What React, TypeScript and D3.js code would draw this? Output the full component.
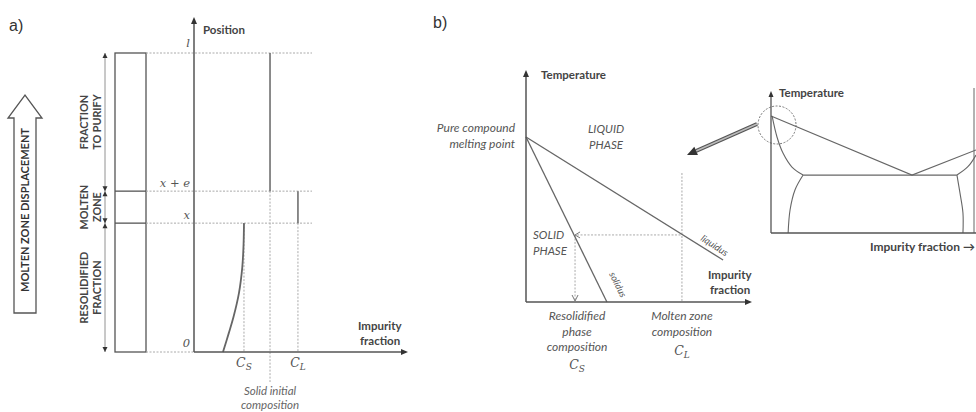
import * as d3 from "d3"

// ---- panel a: zone melting profile ----
const positionLabels = ["0", "x", "x + e", "l"]
const positionValues = [0, 0.431, 0.538, 1]
const segmentLabels = [["RESOLIDIFIED", "FRACTION"], ["MOLTEN", "ZONE"], ["FRACTION", "TO PURIFY"]]
// impurity fractions: solid (C_S), initial (C_0), liquid (C_L)
const compSolid = 0.238
const compInitial = 0.362
const compLiquid = 0.495
// resolidified impurity profile, bottom to top
const profilePosition = [0, 0.064, 0.117, 0.197, 0.284, 0.36, 0.431]
const profileFraction = [0.138, 0.166, 0.188, 0.214, 0.23, 0.236, 0.238]

// ---- panel b: phase diagram zoom ----
const liquidusFrac = [0, 0.872]
const liquidusTemp = [0.711, 0.181]
const solidusFrac = [0, 0.358]
const solidusTemp = [0.711, 0]
const tieTemp = 0.289
const tieSolid = 0.217
const tieLiquid = 0.69

// ---- inset: full eutectic diagram ----
const leftLiqFrac = [0, 0.659, 0.958]
const leftLiqTemp = [0.83, 0.411, 0.589]
const leftSolFrac = [0.005, 0.028, 0.056, 0.098, 0.15]
const leftSolTemp = [0.83, 0.681, 0.567, 0.468, 0.411]
const leftSolvFrac = [0.15, 0.112, 0.089, 0.08]
const leftSolvTemp = [0.411, 0.305, 0.163, 0]
const eutecticFrac = [0.15, 0.869]
const eutecticTemp = 0.411
const rightSolFrac = [0.869, 0.92, 0.958]
const rightSolTemp = [0.411, 0.47, 0.553]
const rightSolvFrac = [0.869, 0.883, 0.897, 0.897]
const rightSolvTemp = [0.411, 0.284, 0.142, 0]

const LINE = "#666"
const DASH = "#aaa"
const SANS = "Lato, 'Open Sans', sans-serif"
const SERIF = "'DejaVu Serif', serif"
const BOLD = 11.5
const ITAL = 12

const xA = d3.scaleLinear().domain([0, 1]).range([194, 404])
const yA = d3.scaleLinear().domain([0, 1]).range([352, 53])
const xB = d3.scaleLinear().domain([0, 1]).range([526, 752])
const yB = d3.scaleLinear().domain([0, 1]).range([302, 70])
const xC = d3.scaleLinear().domain([0, 1]).range([771, 985])
const yC = d3.scaleLinear().domain([0, 1]).range([233, 92])

function tri(x: number, y: number, angle: number, len = 6, half = 2.5) {
  const a = (angle * Math.PI) / 180
  const bx = x - Math.cos(a) * len
  const by = y - Math.sin(a) * len
  const px = -Math.sin(a) * half
  const py = Math.cos(a) * half
  return `${x},${y} ${bx + px},${by + py} ${bx - px},${by - py}`
}

function Sub({ x, y, base, sub, anchor = "middle" }: any) {
  return (
    <text x={x} y={y} textAnchor={anchor} fontFamily={SERIF} fontStyle="italic" fontSize={12.5} fill="#555">
      {base}
      <tspan dy={3} fontSize={9}>{sub}</tspan>
    </text>
  )
}

export default function App() {
  const profile = d3
    .line<number>()
    .x((_, i) => xA(profileFraction[i]))
    .y((d) => yA(d))
    .curve(d3.curveCatmullRom)(profilePosition)

  const curveC = (fr: number[], tp: number[]) =>
    d3
      .line<number>()
      .x((d) => xC(d))
      .y((_, i) => yC(tp[i]))
      .curve(d3.curveCatmullRom)(fr) as string

  const bounds = positionValues.slice(0, 3).map((v, i) => [v, positionValues[i + 1]])

  const left = xA(0) - 89 // dimension line x
  return (
    <svg width={976} height={412} style={{ position: "absolute", left: 0, top: 0, background: "#fff" }}>
      <defs>
        <clipPath id="clipC">
          <rect x={0} y={0} width={976} height={412} />
        </clipPath>
      </defs>

      {/* ===== panel a ===== */}
      <text x={9} y={31} fontFamily="'Liberation Sans', Arial" fontSize={16} fill="#333">a)</text>

      <polygon points="14,313 36,313 36,118 42,118 25,95 8,118 14,118" fill="#fff" stroke="#555" strokeWidth={1.3} />
      <text transform="translate(29,210) rotate(-90)" textAnchor="middle" fontFamily={SANS} fontWeight="bold" fontSize={11} fill="#333">
        MOLTEN ZONE DISPLACEMENT
      </text>

      {/* dimension line with arrows */}
      <line x1={left} x2={left} y1={yA(0)} y2={yA(1)} stroke="#777" strokeWidth={0.8} />
      {bounds.map(([a, b], i) => (
        <g key={i}>
          <polygon points={tri(left, yA(b), -90, 5, 2.5)} fill="#333" />
          <polygon points={tri(left, yA(a), 90, 5, 2.5)} fill="#333" />
          <text transform={`translate(${left - 17},${(yA(a) + yA(b)) / 2}) rotate(-90)`} textAnchor="middle" fontFamily={SANS} fontWeight="bold" fontSize={10.8} fill="#444">
            <tspan x={0} dy={0}>{segmentLabels[i][0]}</tspan>
            <tspan x={0} dy={13}>{segmentLabels[i][1]}</tspan>
          </text>
        </g>
      ))}

      {/* sample bar */}
      <rect x={115} y={yA(1)} width={31} height={yA(0) - yA(1)} fill="none" stroke="#555" strokeWidth={1.3} />
      {positionValues.slice(1, 3).map((v, i) => (
        <line key={i} x1={115} x2={146} y1={yA(v)} y2={yA(v)} stroke="#555" strokeWidth={1.3} />
      ))}

      {/* dashed position guides */}
      {positionValues.map((v, i) => (
        <line key={i} x1={146} x2={i === 0 ? xA(0) : 312} y1={yA(v)} y2={yA(v)} stroke={DASH} strokeDasharray="2,1.5" />
      ))}
      {positionLabels.map((t, i) => (
        <text key={t} x={xA(0) - 4} y={yA(positionValues[i]) + (i === 3 ? -6 : i === 0 ? -5 : -4)} textAnchor="end" fontFamily={SERIF} fontStyle="italic" fontSize={11.5} fill="#555">
          {t}
        </text>
      ))}

      {/* composition guides */}
      <line x1={xA(compInitial)} x2={xA(compInitial)} y1={yA(positionValues[2])} y2={382} stroke={DASH} strokeDasharray="2,1.5" />
      <line x1={xA(compLiquid)} x2={xA(compLiquid)} y1={yA(positionValues[1])} y2={yA(0)} stroke={DASH} strokeDasharray="2,1.5" />
      <line x1={xA(compSolid)} x2={xA(compSolid)} y1={yA(positionValues[1])} y2={yA(0)} stroke={DASH} strokeDasharray="2,1.5" />

      <line x1={xA(compInitial)} x2={xA(compInitial)} y1={yA(1)} y2={yA(positionValues[2])} stroke={LINE} strokeWidth={1.5} />
      <line x1={xA(compLiquid)} x2={xA(compLiquid)} y1={yA(positionValues[2])} y2={yA(positionValues[1])} stroke={LINE} strokeWidth={1.5} />
      <path d={profile as string} fill="none" stroke={LINE} strokeWidth={1.8} />

      {/* axes */}
      <line x1={xA(0)} x2={xA(0)} y1={yA(0)} y2={22} stroke="#555" strokeWidth={1.5} />
      <polygon points={tri(xA(0), 17, -90, 7, 3)} fill="#333" />
      <line x1={xA(0)} x2={403} y1={yA(0)} y2={yA(0)} stroke="#555" strokeWidth={1.5} />
      <polygon points={tri(408, yA(0), 0, 7, 3)} fill="#333" />
      <text x={203} y={34} fontFamily={SANS} fontWeight="bold" fontSize={BOLD} fill="#444">Position</text>
      <text fontFamily={SANS} fontWeight="bold" fontSize={BOLD} fill="#444">
        <tspan x={358} y={330}>Impurity</tspan>
        <tspan x={360} y={345}>fraction</tspan>
      </text>
      <Sub x={xA(compSolid)} y={367} base="C" sub="S" />
      <Sub x={xA(compLiquid)} y={367} base="C" sub="L" />
      <text textAnchor="middle" fontFamily={SANS} fontStyle="italic" fontSize={11.5} fill="#666">
        <tspan x={xA(compInitial)} y={395}>Solid initial</tspan>
        <tspan x={xA(compInitial)} y={409}>composition</tspan>
      </text>

      {/* ===== panel b ===== */}
      <text x={433} y={28} fontFamily="'Liberation Sans', Arial" fontSize={16} fill="#333">b)</text>

      <line x1={xB(tieLiquid)} x2={xB(tieLiquid)} y1={173} y2={yB(0)} stroke={DASH} strokeDasharray="2,1.5" />
      <line x1={xB(tieSolid) + 2} x2={xB(tieLiquid)} y1={yB(tieTemp)} y2={yB(tieTemp)} stroke={DASH} strokeDasharray="2,1.5" />
      <line x1={xB(tieSolid)} x2={xB(tieSolid)} y1={yB(tieTemp)} y2={yB(0) - 2} stroke={DASH} strokeDasharray="2,1.5" />
      <polyline points={`${xB(tieSolid) + 5},${yB(tieTemp) - 3} ${xB(tieSolid)},${yB(tieTemp)} ${xB(tieSolid) + 5},${yB(tieTemp) + 3}`} fill="none" stroke="#777" />
      <polyline points={`${xB(tieSolid) - 3},${yB(0) - 7} ${xB(tieSolid)},${yB(0) - 1} ${xB(tieSolid) + 3},${yB(0) - 7}`} fill="none" stroke="#777" />

      <line x1={xB(liquidusFrac[0])} y1={yB(liquidusTemp[0])} x2={xB(liquidusFrac[1])} y2={yB(liquidusTemp[1])} stroke={LINE} strokeWidth={1.3} />
      <line x1={xB(solidusFrac[0])} y1={yB(solidusTemp[0])} x2={xB(solidusFrac[1])} y2={yB(solidusTemp[1])} stroke={LINE} strokeWidth={1.3} />

      <line x1={xB(0)} x2={xB(0)} y1={yB(0)} y2={yB(1) + 4} stroke="#555" strokeWidth={1.5} />
      <polygon points={tri(xB(0), yB(1), -90, 7, 3)} fill="#333" />
      <line x1={xB(0)} x2={xB(1) - 4} y1={yB(0)} y2={yB(0)} stroke="#555" strokeWidth={1.5} />
      <polygon points={tri(xB(1), yB(0), 0, 7, 3)} fill="#333" />

      <text x={541} y={79} fontFamily={SANS} fontWeight="bold" fontSize={BOLD} fill="#444">Temperature</text>
      <text textAnchor="end" fontFamily={SANS} fontStyle="italic" fontSize={ITAL} fill="#555">
        <tspan x={515} y={132}>Pure compound</tspan>
        <tspan x={515} y={148}>melting point</tspan>
      </text>
      <text textAnchor="middle" fontFamily={SANS} fontStyle="italic" fontSize={11.5} fill="#555">
        <tspan x={606} y={133}>LIQUID</tspan>
        <tspan x={606} y={149}>PHASE</tspan>
      </text>
      <text fontFamily={SANS} fontStyle="italic" fontSize={11.5} fill="#555">
        <tspan x={533} y={239}>SOLID</tspan>
        <tspan x={533} y={255}>PHASE</tspan>
      </text>
      <text transform="translate(609,274) rotate(64)" fontFamily={SANS} fontStyle="italic" fontSize={9.5} fill="#555">solidus</text>
      <text transform="translate(700,240) rotate(33)" fontFamily={SANS} fontStyle="italic" fontSize={9.5} fill="#555">liquidus</text>
      <text fontFamily={SANS} fontWeight="bold" fontSize={BOLD} fill="#444">
        <tspan x={708} y={279}>Impurity</tspan>
        <tspan x={710} y={294}>fraction</tspan>
      </text>
      <text textAnchor="middle" fontFamily={SANS} fontStyle="italic" fontSize={ITAL} fill="#555">
        <tspan x={xB(tieSolid) + 2} y={320}>Resolidified</tspan>
        <tspan x={xB(tieSolid) + 2} y={336}>phase</tspan>
        <tspan x={xB(tieSolid) + 2} y={351}>composition</tspan>
      </text>
      <Sub x={xB(tieSolid) + 2} y={369} base="C" sub="S" />
      <text textAnchor="middle" fontFamily={SANS} fontStyle="italic" fontSize={ITAL} fill="#555">
        <tspan x={xB(tieLiquid)} y={320}>Molten zone</tspan>
        <tspan x={xB(tieLiquid)} y={336}>composition</tspan>
      </text>
      <Sub x={xB(tieLiquid)} y={355} base="C" sub="L" />

      {/* zoom arrow */}
      <g>
        <line x1={757} y1={124} x2={696} y2={151} stroke="#555" strokeWidth={4} />
        <line x1={757} y1={124} x2={696} y2={151} stroke="#bbb" strokeWidth={1.6} />
        <polygon points={tri(687, 155, (Math.atan2(155 - 124, 687 - 757) * 180) / Math.PI, 10, 4.5)} fill="#333" />
      </g>

      {/* ===== inset ===== */}
      <g clipPath="url(#clipC)">
        <circle cx={777} cy={125} r={19} fill="none" stroke="#777" strokeDasharray="2,1.5" />
        <polyline points={leftLiqFrac.map((f, i) => `${xC(f)},${yC(leftLiqTemp[i])}`).join(" ")} fill="none" stroke={LINE} strokeWidth={1.1} />
        <path d={curveC(leftSolFrac, leftSolTemp)} fill="none" stroke={LINE} strokeWidth={1.1} />
        <path d={curveC(leftSolvFrac, leftSolvTemp)} fill="none" stroke={LINE} strokeWidth={1.1} />
        <path d={curveC(rightSolFrac, rightSolTemp)} fill="none" stroke={LINE} strokeWidth={1.1} />
        <path d={curveC(rightSolvFrac, rightSolvTemp)} fill="none" stroke={LINE} strokeWidth={1.1} />
        <line x1={xC(eutecticFrac[0])} x2={xC(eutecticFrac[1])} y1={yC(eutecticTemp)} y2={yC(eutecticTemp)} stroke={LINE} strokeWidth={1.3} />
        <line x1={974} x2={974} y1={88} y2={yC(0)} stroke={LINE} strokeWidth={1} />
        <line x1={xC(0)} x2={xC(0)} y1={yC(0)} y2={yC(1) + 4} stroke="#555" strokeWidth={1.3} />
        <polygon points={tri(xC(0), yC(1) - 1, -90, 6, 2.5)} fill="#333" />
        <line x1={xC(0)} x2={976} y1={yC(0)} y2={yC(0)} stroke="#555" strokeWidth={1.3} />
      </g>
      <text x={779} y={97} fontFamily={SANS} fontWeight="bold" fontSize={BOLD} fill="#444">Temperature</text>
      <text x={870} y={251} fontFamily={SANS} fontWeight="bold" fontSize={12} fill="#444">Impurity fraction →</text>
    </svg>
  )
}
